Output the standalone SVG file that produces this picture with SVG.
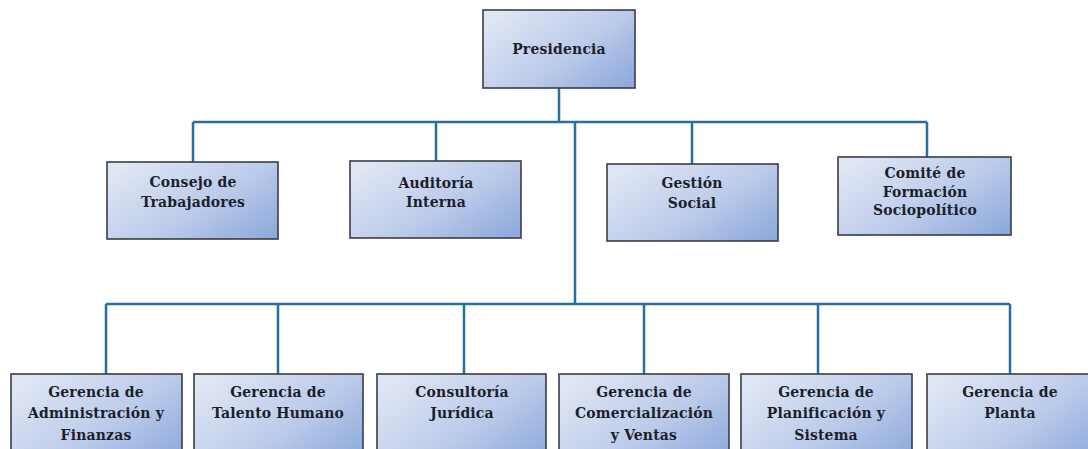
<svg xmlns="http://www.w3.org/2000/svg" width="1088" height="449" viewBox="0 0 1088 449">
<defs>
<linearGradient id="boxGrad" x1="0" y1="0.2" x2="1" y2="0.9">
<stop offset="0" stop-color="#dfe6f4"/>
<stop offset="0.55" stop-color="#bccbea"/>
<stop offset="1" stop-color="#8eaadc"/>
</linearGradient>
</defs>
<style>
.box{fill:url(#boxGrad);stroke:#3a3d45;stroke-width:1.6}
.lbl{font-family:'DejaVu Serif Condensed','DejaVu Serif',serif;font-weight:bold;font-size:15.5px;letter-spacing:0.2px;fill:#1c1f2b;text-anchor:middle}
.conn{stroke:#2b6f9e;stroke-width:2.5;fill:none}
</style>
<rect width="1088" height="449" fill="#ffffff"/>
<g id="connectors">
<line class="conn" x1="559" y1="88" x2="559" y2="122"/>
<line class="conn" x1="193" y1="122" x2="927" y2="122"/>
<line class="conn" x1="193" y1="122" x2="193" y2="162"/>
<line class="conn" x1="436" y1="122" x2="436" y2="161"/>
<line class="conn" x1="692" y1="122" x2="692" y2="164"/>
<line class="conn" x1="927" y1="122" x2="927" y2="157"/>
<line class="conn" x1="575" y1="122" x2="575" y2="304"/>
<line class="conn" x1="106" y1="304" x2="1010" y2="304"/>
<line class="conn" x1="106" y1="304" x2="106" y2="374"/>
<line class="conn" x1="278" y1="304" x2="278" y2="374"/>
<line class="conn" x1="464" y1="304" x2="464" y2="374"/>
<line class="conn" x1="644" y1="304" x2="644" y2="374"/>
<line class="conn" x1="818" y1="304" x2="818" y2="374"/>
<line class="conn" x1="1010" y1="304" x2="1010" y2="374"/>
</g>
<g id="presidencia">
<rect class="box" x="483" y="10" width="152" height="78"/>
<text class="lbl" x="559" y="54">Presidencia</text>
</g>
<g id="consejo">
<rect class="box" x="107" y="162" width="171" height="77"/>
<text class="lbl" x="193" y="187">Consejo de</text>
<text class="lbl" x="193" y="207">Trabajadores</text>
</g>
<g id="auditoria">
<rect class="box" x="350" y="161" width="171" height="77"/>
<text class="lbl" x="436" y="188">Auditoría</text>
<text class="lbl" x="436" y="207">Interna</text>
</g>
<g id="gestion">
<rect class="box" x="607" y="164" width="171" height="77"/>
<text class="lbl" x="692" y="188">Gestión</text>
<text class="lbl" x="692" y="208">Social</text>
</g>
<g id="comite">
<rect class="box" x="838" y="157" width="173" height="78"/>
<text class="lbl" x="925" y="178">Comité de</text>
<text class="lbl" x="925" y="197">Formación</text>
<text class="lbl" x="925" y="215">Sociopolítico</text>
</g>
<g id="admin">
<rect class="box" x="11" y="374" width="171" height="90"/>
<text class="lbl" x="96" y="397">Gerencia de</text>
<text class="lbl" x="96" y="418">Administración y</text>
<text class="lbl" x="96" y="440">Finanzas</text>
</g>
<g id="talento">
<rect class="box" x="194" y="374" width="169" height="90"/>
<text class="lbl" x="278" y="397">Gerencia de</text>
<text class="lbl" x="278" y="418">Talento Humano</text>
</g>
<g id="consultoria">
<rect class="box" x="377" y="374" width="169" height="90"/>
<text class="lbl" x="462" y="397">Consultoría</text>
<text class="lbl" x="462" y="418">Jurídica</text>
</g>
<g id="comercializacion">
<rect class="box" x="559" y="374" width="170" height="90"/>
<text class="lbl" x="644" y="397">Gerencia de</text>
<text class="lbl" x="644" y="418">Comercialización</text>
<text class="lbl" x="644" y="440">y Ventas</text>
</g>
<g id="planificacion">
<rect class="box" x="741" y="374" width="171" height="90"/>
<text class="lbl" x="826" y="397">Gerencia de</text>
<text class="lbl" x="826" y="418">Planificación y</text>
<text class="lbl" x="826" y="440">Sistema</text>
</g>
<g id="planta">
<rect class="box" x="927" y="374" width="170" height="90"/>
<text class="lbl" x="1010" y="397">Gerencia de</text>
<text class="lbl" x="1010" y="418">Planta</text>
</g>
</svg>
